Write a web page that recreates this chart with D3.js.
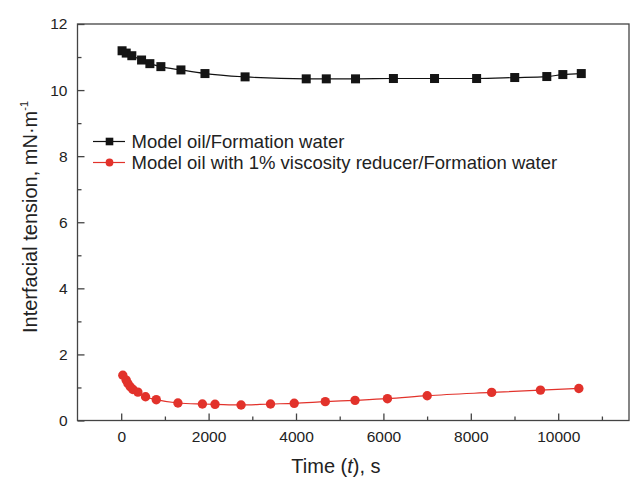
<!DOCTYPE html>
<html>
<head>
<meta charset="utf-8">
<script src="https://cdn.jsdelivr.net/npm/d3@7"></script>
<style>
  body { margin: 0; background: #fff; }
  svg { display: block; font-family: "Liberation Sans", Arial, sans-serif; }
</style>
</head>
<body>
<svg id="chart" width="630" height="479" viewBox="0 0 630 479"></svg>
<script>
// Model oil / Formation water (black squares)
const oilTime = [20, 115, 243, 466, 656, 908, 1367, 1917, 2835, 4234, 4693, 5362, 6229, 7170, 8133, 9005, 9739, 10106, 10528];
const oilIFT  = [11.19, 11.12, 11.04, 10.91, 10.80, 10.71, 10.61, 10.50, 10.40, 10.34, 10.34, 10.34, 10.35, 10.35, 10.35, 10.38, 10.41, 10.47, 10.50];

// Model oil with 1% viscosity reducer / Formation water (red circles)
const reducerTime = [37, 115, 153, 207, 267, 382, 557, 802, 1298, 1858, 2147, 2743, 3417, 3959, 4670, 5351, 6092, 7002, 8477, 9594, 10472];
const reducerIFT  = [1.37, 1.22, 1.12, 1.02, 0.94, 0.86, 0.72, 0.63, 0.53, 0.50, 0.49, 0.47, 0.50, 0.52, 0.57, 0.61, 0.66, 0.75, 0.85, 0.92, 0.97];

const xTicks = [0, 2000, 4000, 6000, 8000, 10000];
const xMinorTicks = [1000, 3000, 5000, 7000, 9000, 11000];
const yTicks = [0, 2, 4, 6, 8, 10, 12];
const yMinorTicks = [1, 3, 5, 7, 9, 11];

const seriesNames = ["Model oil/Formation water", "Model oil with 1% viscosity reducer/Formation water"];

const svg = d3.select("#chart");

/* ----- scales ----- */
const plotLeft = 77.5, plotRight = 629, plotTop = 24, plotBottom = 420.5;

const x = d3.scaleLinear().domain([-1000, 11620]).range([plotLeft, plotRight]);
const y = d3.scaleLinear().domain([0, 12]).range([plotBottom, plotTop]);

const axisColor = "#444";
const red = "#e2322b";

/* ----- frame ----- */
svg.append("rect")
    .attr("x", plotLeft).attr("y", plotTop)
    .attr("width", plotRight - plotLeft).attr("height", plotBottom - plotTop)
    .attr("fill", "none")
    .attr("stroke", axisColor)
    .attr("stroke-width", 1.3);

/* ----- axes (ticks point inward) ----- */
svg.append("g")
    .attr("transform", `translate(0,${plotBottom})`)
    .call(d3.axisBottom(x).tickValues(xTicks).tickSize(-7).tickPadding(10.5).tickFormat(d3.format("d")));
svg.append("g")
    .attr("transform", `translate(0,${plotBottom})`)
    .call(d3.axisBottom(x).tickValues(xMinorTicks).tickSize(-4).tickFormat(""));

svg.append("g")
    .attr("transform", `translate(${plotLeft},0)`)
    .call(d3.axisLeft(y).tickValues(yTicks).tickSize(-7).tickPadding(10));
svg.append("g")
    .attr("transform", `translate(${plotLeft},0)`)
    .call(d3.axisLeft(y).tickValues(yMinorTicks).tickSize(-4).tickFormat(""));

svg.selectAll(".domain").remove();
svg.selectAll(".tick line").attr("stroke", axisColor).attr("stroke-width", 1.3);
svg.selectAll(".tick text").attr("fill", "#222").attr("font-size", 15.5).attr("font-family", "'Liberation Sans', Arial, sans-serif");

/* ----- axis titles ----- */
const xTitle = svg.append("text")
    .attr("x", 336).attr("y", 473)
    .attr("text-anchor", "middle")
    .attr("font-size", 20)
    .attr("fill", "#222");
xTitle.append("tspan").text("Time (");
xTitle.append("tspan").attr("font-style", "italic").text("t");
xTitle.append("tspan").text("), s");

const yTitle = svg.append("text")
    .attr("transform", "translate(37,217) rotate(-90)")
    .attr("text-anchor", "middle")
    .attr("font-size", 20)
    .attr("fill", "#222");
yTitle.append("tspan").text("Interfacial tension, mN·m");
yTitle.append("tspan").attr("font-size", 11).attr("dy", -9).text("-1");

/* ----- lines ----- */
const line = d3.line().x(d => x(d[0])).y(d => y(d[1])).curve(d3.curveMonotoneX);

const oilData = d3.zip(oilTime, oilIFT);
const reducerData = d3.zip(reducerTime, reducerIFT);

svg.append("path")
    .attr("d", line(oilData))
    .attr("fill", "none")
    .attr("stroke", "#111")
    .attr("stroke-width", 1.2);

svg.append("path")
    .attr("d", line(reducerData))
    .attr("fill", "none")
    .attr("stroke", red)
    .attr("stroke-width", 1.2);

/* ----- markers ----- */
svg.append("g").selectAll("rect")
    .data(oilData)
    .enter().append("rect")
    .attr("x", d => x(d[0]) - 4.5)
    .attr("y", d => y(d[1]) - 4.5)
    .attr("width", 9).attr("height", 9)
    .attr("fill", "#141414");

svg.append("g").selectAll("circle")
    .data(reducerData)
    .enter().append("circle")
    .attr("cx", d => x(d[0]))
    .attr("cy", d => y(d[1]))
    .attr("r", 4.7)
    .attr("fill", red);

/* ----- legend ----- */
const legend = svg.append("g");
const legendY = [141.5, 162.5];

legend.selectAll("line")
    .data(legendY)
    .enter().append("line")
    .attr("x1", 93).attr("x2", 125)
    .attr("y1", d => d).attr("y2", d => d)
    .attr("stroke", (d, i) => i === 0 ? "#111" : red)
    .attr("stroke-width", 1.2);

legend.append("rect")
    .attr("x", 109.5 - 3.8).attr("y", legendY[0] - 3.8)
    .attr("width", 7.6).attr("height", 7.6)
    .attr("fill", "#141414");
legend.append("circle")
    .attr("cx", 109.5).attr("cy", legendY[1])
    .attr("r", 3.9)
    .attr("fill", red);

legend.selectAll("text")
    .data(seriesNames)
    .enter().append("text")
    .attr("x", 131.5)
    .attr("y", (d, i) => legendY[i] + 6.5)
    .attr("font-size", 18.5)
    .attr("fill", "#222")
    .text(d => d);
</script>
</body>
</html>
